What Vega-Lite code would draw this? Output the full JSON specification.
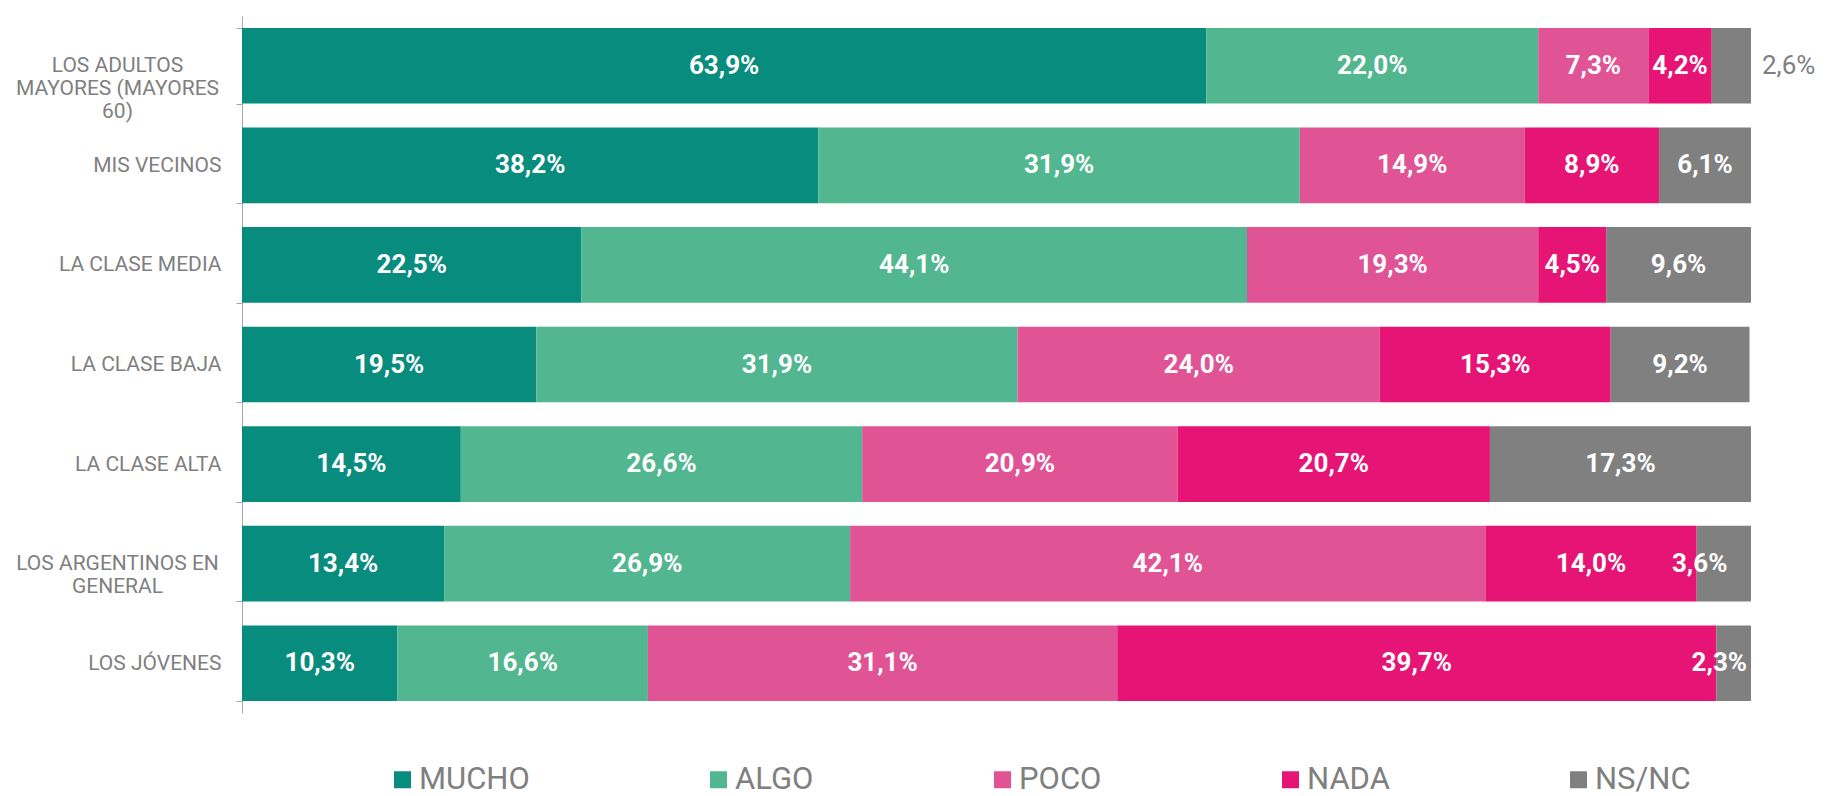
{
  "$schema": "https://vega.github.io/schema/vega-lite/v6.json",
  "width": 1509,
  "height": 697,
  "autosize": {"type": "none"},
  "padding": {"left": 242, "top": 16, "right": 82, "bottom": 83},
  "background": "white",
  "config": {
    "font": "Roboto",
    "view": {"stroke": null},
    "locale": {"number": {"decimal": ",", "thousands": ".", "grouping": [3], "currency": ["$", ""]}}
  },
  "data": {"values": [
    {"grupo": "LOS ADULTOS MAYORES (MAYORES 60)", "cat": "MUCHO", "v": 0.639},
    {"grupo": "LOS ADULTOS MAYORES (MAYORES 60)", "cat": "ALGO", "v": 0.220},
    {"grupo": "LOS ADULTOS MAYORES (MAYORES 60)", "cat": "POCO", "v": 0.073},
    {"grupo": "LOS ADULTOS MAYORES (MAYORES 60)", "cat": "NADA", "v": 0.042},
    {"grupo": "LOS ADULTOS MAYORES (MAYORES 60)", "cat": "NS/NC", "v": 0.026},
    {"grupo": "MIS VECINOS", "cat": "MUCHO", "v": 0.382},
    {"grupo": "MIS VECINOS", "cat": "ALGO", "v": 0.319},
    {"grupo": "MIS VECINOS", "cat": "POCO", "v": 0.149},
    {"grupo": "MIS VECINOS", "cat": "NADA", "v": 0.089},
    {"grupo": "MIS VECINOS", "cat": "NS/NC", "v": 0.061},
    {"grupo": "LA CLASE MEDIA", "cat": "MUCHO", "v": 0.225},
    {"grupo": "LA CLASE MEDIA", "cat": "ALGO", "v": 0.441},
    {"grupo": "LA CLASE MEDIA", "cat": "POCO", "v": 0.193},
    {"grupo": "LA CLASE MEDIA", "cat": "NADA", "v": 0.045},
    {"grupo": "LA CLASE MEDIA", "cat": "NS/NC", "v": 0.096},
    {"grupo": "LA CLASE BAJA", "cat": "MUCHO", "v": 0.195},
    {"grupo": "LA CLASE BAJA", "cat": "ALGO", "v": 0.319},
    {"grupo": "LA CLASE BAJA", "cat": "POCO", "v": 0.240},
    {"grupo": "LA CLASE BAJA", "cat": "NADA", "v": 0.153},
    {"grupo": "LA CLASE BAJA", "cat": "NS/NC", "v": 0.092},
    {"grupo": "LA CLASE ALTA", "cat": "MUCHO", "v": 0.145},
    {"grupo": "LA CLASE ALTA", "cat": "ALGO", "v": 0.266},
    {"grupo": "LA CLASE ALTA", "cat": "POCO", "v": 0.209},
    {"grupo": "LA CLASE ALTA", "cat": "NADA", "v": 0.207},
    {"grupo": "LA CLASE ALTA", "cat": "NS/NC", "v": 0.173},
    {"grupo": "LOS ARGENTINOS EN GENERAL", "cat": "MUCHO", "v": 0.134},
    {"grupo": "LOS ARGENTINOS EN GENERAL", "cat": "ALGO", "v": 0.269},
    {"grupo": "LOS ARGENTINOS EN GENERAL", "cat": "POCO", "v": 0.421},
    {"grupo": "LOS ARGENTINOS EN GENERAL", "cat": "NADA", "v": 0.140},
    {"grupo": "LOS ARGENTINOS EN GENERAL", "cat": "NS/NC", "v": 0.036},
    {"grupo": "LOS JÓVENES", "cat": "MUCHO", "v": 0.103},
    {"grupo": "LOS JÓVENES", "cat": "ALGO", "v": 0.166},
    {"grupo": "LOS JÓVENES", "cat": "POCO", "v": 0.311},
    {"grupo": "LOS JÓVENES", "cat": "NADA", "v": 0.397},
    {"grupo": "LOS JÓVENES", "cat": "NS/NC", "v": 0.023}
  ]},
  "transform": [
    {"calculate": "indexof(['MUCHO','ALGO','POCO','NADA','NS/NC'], datum.cat)", "as": "ord"},
    {"stack": "v", "groupby": ["grupo"], "sort": [{"field": "ord", "order": "ascending"}], "as": ["v0", "v1"]},
    {"calculate": "(datum.v0 + datum.v1) / 2", "as": "mid"}
  ],
  "encoding": {
    "y": {
      "field": "grupo",
      "type": "nominal",
      "sort": ["LOS ADULTOS MAYORES (MAYORES 60)", "MIS VECINOS", "LA CLASE MEDIA", "LA CLASE BAJA", "LA CLASE ALTA", "LOS ARGENTINOS EN GENERAL", "LOS JÓVENES"],
      "scale": {"paddingInner": 0.24, "paddingOuter": 0.12},
      "axis": {
        "title": null,
        "domainColor": "#a6a6a6",
        "tickColor": "#a6a6a6",
        "tickSize": 6,
        "tickBand": "extent",
        "labelFontSize": 21,
        "labelColor": "#7f7f7f",
        "labelAlign": {"condition": {"test": "datum.value == 'LOS ADULTOS MAYORES (MAYORES 60)' || datum.value == 'LOS ARGENTINOS EN GENERAL'", "value": "center"}, "value": "right"},
        "labelPadding": {"condition": {"test": "datum.value == 'LOS ADULTOS MAYORES (MAYORES 60)' || datum.value == 'LOS ARGENTINOS EN GENERAL'", "value": 119}, "value": 15},
        "labelLineHeight": 23,
        "labelLimit": 400,
        "labelExpr": "datum.value == 'LOS ADULTOS MAYORES (MAYORES 60)' ? ['LOS ADULTOS', 'MAYORES (MAYORES', '60)'] : datum.value == 'LOS ARGENTINOS EN GENERAL' ? ['LOS ARGENTINOS EN', 'GENERAL'] : datum.value"
      }
    }
  },
  "layer": [
    {
      "mark": {"type": "bar"},
      "encoding": {
        "x": {"field": "v0", "type": "quantitative", "scale": {"domain": [0, 1], "nice": false, "zero": true}, "axis": null},
        "x2": {"field": "v1"},
        "color": {
          "field": "cat",
          "type": "nominal",
          "scale": {"domain": ["MUCHO", "ALGO", "POCO", "NADA", "NS/NC"], "range": ["#078c7e", "#52b690", "#e05496", "#e61474", "#808080"]},
          "legend": {
            "title": null,
            "orient": "none",
            "direction": "horizontal",
            "legendX": 145,
            "legendY": 748,
            "symbolType": "square",
            "symbolSize": 289,
            "symbolStrokeWidth": 0,
            "labelFontSize": 31,
            "labelColor": "#7f7f7f",
            "labelOffset": 1,
            "columnPadding": 173,
            "labelLimit": 300
          }
        }
      }
    },
    {
      "transform": [{"filter": "!(datum.cat == 'NS/NC' && datum.v < 0.05)"}],
      "mark": {"type": "text", "color": "white", "fontSize": 26, "fontWeight": "bold", "baseline": "middle", "align": "center"},
      "encoding": {
        "x": {"field": "mid", "type": "quantitative"},
        "text": {"field": "v", "type": "quantitative", "format": ".1%"}
      }
    },
    {
      "transform": [{"filter": "datum.cat == 'NS/NC' && datum.v < 0.05 && datum.grupo != 'LOS ADULTOS MAYORES (MAYORES 60)'"}],
      "mark": {"type": "text", "color": "white", "fontSize": 26, "fontWeight": "bold", "baseline": "middle", "align": "center", "dx": 3},
      "encoding": {
        "x": {"field": "v0", "type": "quantitative"},
        "text": {"field": "v", "type": "quantitative", "format": ".1%"}
      }
    },
    {
      "transform": [{"filter": "datum.cat == 'NS/NC' && datum.grupo == 'LOS ADULTOS MAYORES (MAYORES 60)'"}],
      "mark": {"type": "text", "color": "#7f7f7f", "fontSize": 26, "baseline": "middle", "align": "left", "dx": 11},
      "encoding": {
        "x": {"field": "v1", "type": "quantitative"},
        "text": {"field": "v", "type": "quantitative", "format": ".1%"}
      }
    }
  ]
}
